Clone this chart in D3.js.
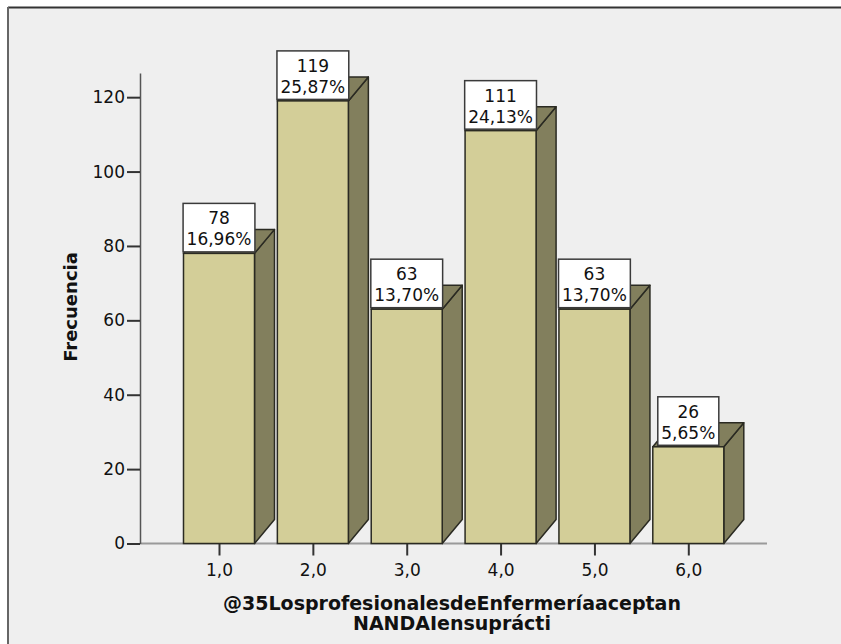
<!DOCTYPE html>
<html>
<head>
<meta charset="utf-8">
<script src="https://cdn.jsdelivr.net/npm/d3@7/dist/d3.min.js"></script>
<style>
  html, body { margin: 0; padding: 0; background: #ffffff; }
  svg { display: block; }
  text { font-family: "DejaVu Sans", Verdana, sans-serif; fill: #111; }
</style>
</head>
<body>
<svg id="chart" width="841" height="644"></svg>
<script>
// Frequency table
const categories = ["1,0", "2,0", "3,0", "4,0", "5,0", "6,0"];
const counts = [78, 119, 63, 111, 63, 26];
const percents = ["16,96%", "25,87%", "13,70%", "24,13%", "13,70%", "5,65%"];
const yTicks = [0, 20, 40, 60, 80, 100, 120];
const xTitleLines = ["@35LosprofesionalesdeEnfermeríaaceptan", "NANDAIensuprácti"];
const yTitle = "Frecuencia";

const svg = d3.select("#chart");

// Panel background with framed top-left edges
svg.append("rect").attr("x", 8).attr("y", 7).attr("width", 833).attr("height", 637)
  .attr("fill", "#efefef");
svg.append("line").attr("x1", 8).attr("x2", 841).attr("y1", 7.5).attr("y2", 7.5)
  .attr("stroke", "#333").attr("stroke-width", 2);
svg.append("line").attr("x1", 8).attr("x2", 8).attr("y1", 7).attr("y2", 644)
  .attr("stroke", "#666").attr("stroke-width", 2);

const y = d3.scaleLinear().domain([0, 126.5]).range([543.5, 73]);
const x = d3.scalePoint().domain(categories).range([219, 688.3]);

const barW = 71, depthX = 20, depthY = 24;
const front = "#d3ce98", side = "#827f5d", edge = "#2a2a22";

// X axis baseline
svg.append("line").attr("x1", 140).attr("x2", 767).attr("y1", y(0)).attr("y2", y(0))
  .attr("stroke", "#9a9a9a").attr("stroke-width", 2);

// Y axis
const yAxis = svg.append("g").attr("transform", "translate(140,0)")
  .call(d3.axisLeft(y).tickValues(yTicks).tickSize(13).tickSizeOuter(0).tickPadding(2));
yAxis.select(".domain").attr("stroke", "#555").attr("stroke-width", 1.5);
yAxis.selectAll(".tick line").attr("stroke", "#333").attr("stroke-width", 2);
yAxis.selectAll(".tick text").style("font-size", "17px").attr("fill", "#111");

// X axis ticks and labels
const xAxis = svg.append("g").attr("transform", `translate(0,${y(0)})`)
  .call(d3.axisBottom(x).tickSize(12).tickPadding(8));
xAxis.select(".domain").remove();
xAxis.selectAll(".tick line").attr("stroke", "#333").attr("stroke-width", 2);
xAxis.selectAll(".tick text").style("font-size", "17px").attr("fill", "#111");

// 3D bars
const bars = svg.append("g").selectAll("g").data(categories).join("g");
bars.each(function (c, i) {
  const g = d3.select(this);
  const l = x(c) - barW / 2, r = x(c) + barW / 2;
  const t = y(counts[i]), b = y(0);
  // side face
  g.append("path")
    .attr("d", `M${r},${b}L${r + depthX},${b - depthY}L${r + depthX},${t - depthY}L${r},${t}Z`)
    .attr("fill", side).attr("stroke", edge).attr("stroke-width", 1.5).attr("stroke-linejoin", "round");
  // top face
  g.append("path")
    .attr("d", `M${l},${t}L${l + depthX},${t - depthY}L${r + depthX},${t - depthY}L${r},${t}Z`)
    .attr("fill", side).attr("stroke", edge).attr("stroke-width", 1.5).attr("stroke-linejoin", "round");
  // front face
  g.append("rect").attr("x", l).attr("y", t).attr("width", barW).attr("height", b - t)
    .attr("fill", front).attr("stroke", edge).attr("stroke-width", 1.5);
});

// Value labels: count and percentage in a white box on top of each bar
const labels = svg.append("g").selectAll("g").data(categories).join("g");
labels.each(function (c, i) {
  const g = d3.select(this);
  const cx = x(c), t = y(counts[i]);
  const box = g.append("rect");
  const t1 = g.append("text").attr("x", cx).attr("y", t - 29).attr("text-anchor", "middle")
    .style("font-size", "17px").attr("fill", "#000").text(counts[i]);
  const t2 = g.append("text").attr("x", cx).attr("y", t - 8).attr("text-anchor", "middle")
    .style("font-size", "17px").attr("fill", "#000").text(percents[i]);
  const w = Math.max(t1.node().getComputedTextLength(), t2.node().getComputedTextLength()) + 7;
  box.attr("x", cx - w / 2).attr("y", t - 50).attr("width", w).attr("height", 48.5)
    .attr("fill", "#ffffff").attr("stroke", "#3a3a3a").attr("stroke-width", 1.5);
});

// Axis titles
const xt = svg.append("text").attr("text-anchor", "middle")
  .style("font-size", "19px").style("font-weight", "bold");
xt.selectAll("tspan").data(xTitleLines).join("tspan")
  .attr("x", 452).attr("y", (d, i) => 610 + i * 20).text(d => d);

svg.append("text").attr("transform", "translate(77,307) rotate(-90)")
  .attr("text-anchor", "middle").style("font-size", "18px").style("font-weight", "bold")
  .text(yTitle);
</script>
</body>
</html>
